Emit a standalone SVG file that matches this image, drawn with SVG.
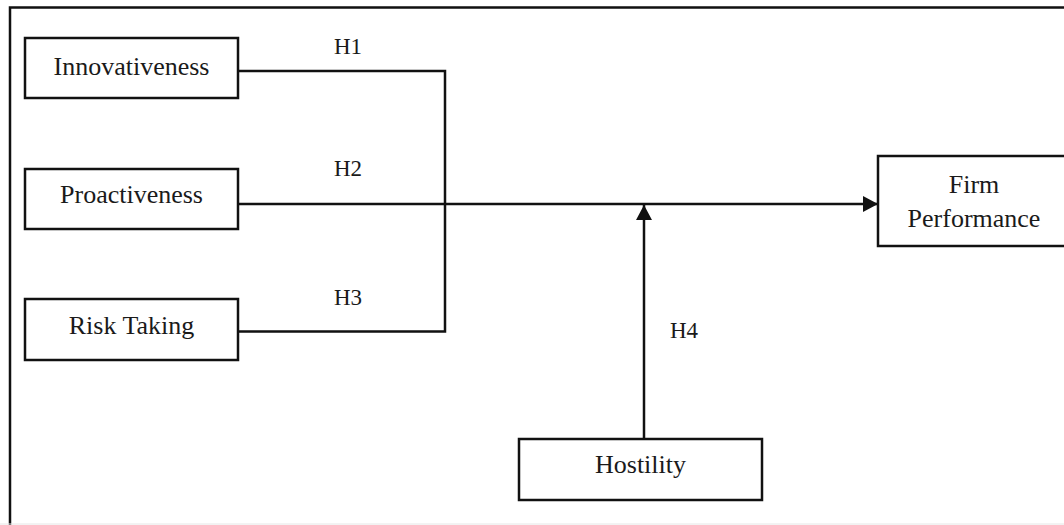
<svg xmlns="http://www.w3.org/2000/svg" width="1064" height="525" viewBox="0 0 1064 525">
  <defs>
    <marker id="arrow" markerWidth="16" markerHeight="16" refX="15" refY="8" orient="auto" markerUnits="userSpaceOnUse">
      <path d="M0,0 L15,8 L0,16 Z" fill="#111"/>
    </marker>
    <style>
      .box { fill: #fff; stroke: #111; stroke-width: 2.5; }
      .lbl { font-family: "Liberation Serif", "Times New Roman", serif; font-size: 26px; fill: #1a1a1a; text-anchor: middle; }
      .h { font-family: "Liberation Serif", "Times New Roman", serif; font-size: 23px; fill: #1a1a1a; text-anchor: middle; }
      .conn { fill: none; stroke: #111; stroke-width: 2.5; }
    </style>
  </defs>
  <rect width="1064" height="525" fill="#fff"/>
  <g id="frame">
    <rect x="10" y="7.5" width="1080" height="540" fill="none" stroke="#111" stroke-width="2.5"/>
    <line x1="0" y1="524" x2="1064" y2="524" stroke="#e6e6e6" stroke-width="1"/>
  </g>
  <g id="connectors">
    <polyline class="conn" points="238,71 445,71 445,331.5 238,331.5"/>
    <line class="conn" x1="238" y1="204" x2="878" y2="204" marker-end="url(#arrow)"/>
    <line class="conn" x1="644" y1="439" x2="644" y2="205" marker-end="url(#arrow)"/>
    <text class="h" x="348" y="54">H1</text>
    <text class="h" x="348" y="176">H2</text>
    <text class="h" x="348" y="305">H3</text>
    <text class="h" x="684" y="338">H4</text>
  </g>
  <g id="innovativeness">
    <rect class="box" x="25" y="38" width="213" height="60"/>
    <text class="lbl" x="131.5" y="75">Innovativeness</text>
  </g>
  <g id="proactiveness">
    <rect class="box" x="25" y="169" width="213" height="60"/>
    <text class="lbl" x="131.5" y="203">Proactiveness</text>
  </g>
  <g id="risk-taking">
    <rect class="box" x="25" y="299" width="213" height="61"/>
    <text class="lbl" x="131.5" y="334">Risk Taking</text>
  </g>
  <g id="firm-performance">
    <rect class="box" x="878" y="156" width="192" height="90"/>
    <text class="lbl" x="974" y="193">Firm</text>
    <text class="lbl" x="974" y="227">Performance</text>
  </g>
  <g id="hostility">
    <rect class="box" x="519" y="439" width="243" height="61"/>
    <text class="lbl" x="640.5" y="473">Hostility</text>
  </g>
</svg>
